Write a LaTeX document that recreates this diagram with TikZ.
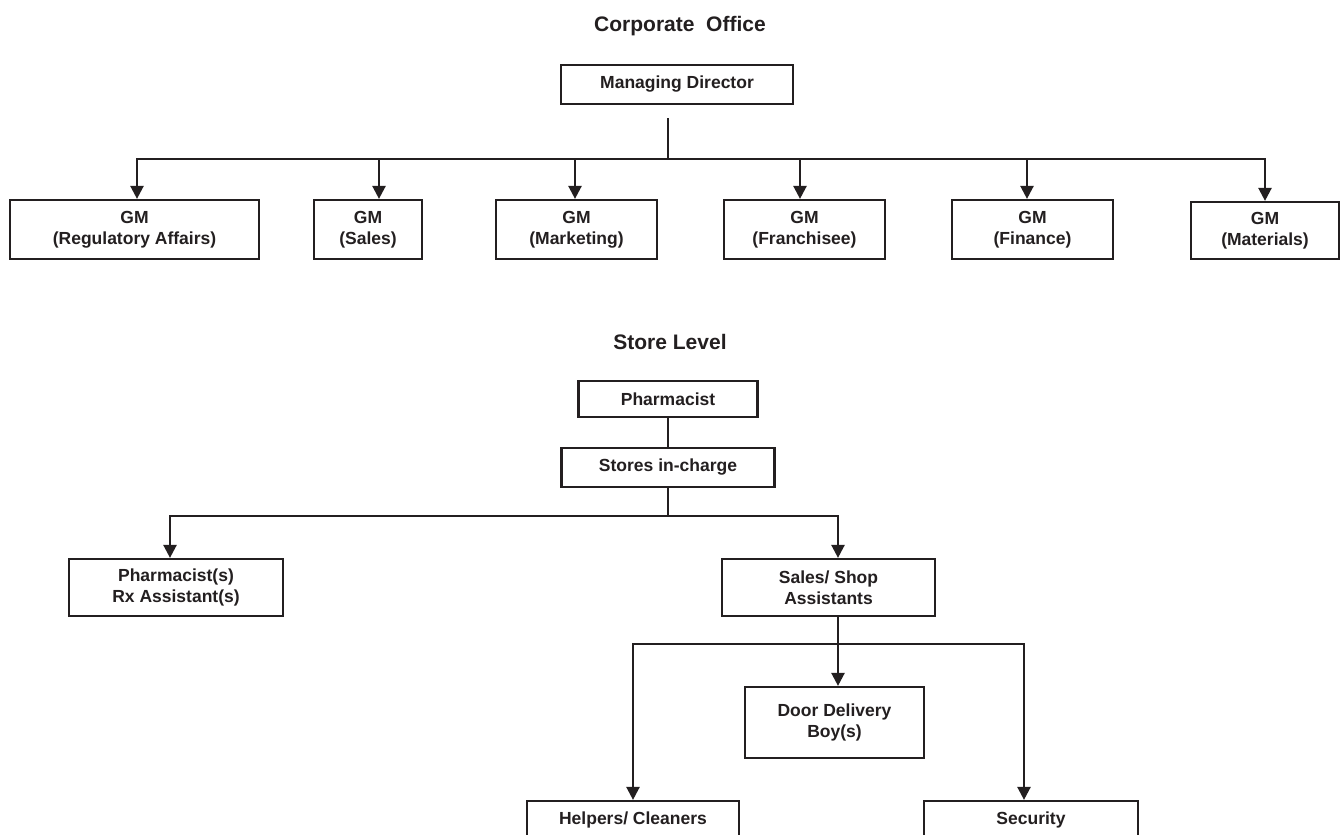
\documentclass[tikz,border=0pt]{standalone}
\usepackage{fontspec}
\setmainfont{Liberation Sans}
\usetikzlibrary{arrows.meta}
\definecolor{ink}{RGB}{35,31,32}
\newcommand\orgboxfont{\bfseries\fontsize{17.5}{21}\selectfont}
\newcommand\orgtitlefont{\bfseries\fontsize{21}{25}\selectfont}
\begin{document}
\begin{tikzpicture}[x=1pt,y=-1pt,
  box/.style={draw=ink, line width=2.2pt, inner sep=0pt, align=center, text=ink, font=\orgboxfont},
  heading/.style={inner sep=0pt, text=ink, font=\orgtitlefont},
  conn/.style={draw=ink, line width=2.4pt},
  arr/.style={conn, -{Triangle[width=13pt,length=13pt]}}
]
\clip (0,0) rectangle (1341,835);
\fill[white] (0,0) rectangle (1341,835);

% ---------- Corporate office ----------
\node[heading] (corp) at (680,26) {Corporate\ \ Office};
\node[box, minimum width=232pt, minimum height=39pt] (md) at (677,84.5) {Managing Director};

\node[box, minimum width=249pt, minimum height=59pt] (reg)  at (134.5,229.5) {GM\\(Regulatory Affairs)};
\node[box, minimum width=108pt, minimum height=59pt] (gsal) at (368,229.5)   {GM\\(Sales)};
\node[box, minimum width=161pt, minimum height=59pt] (mkt)  at (576.5,229.5) {GM\\(Marketing)};
\node[box, minimum width=161pt, minimum height=59pt] (fran) at (804.5,229.5) {GM\\(Franchisee)};
\node[box, minimum width=161pt, minimum height=59pt] (fin)  at (1032.5,229.5) {GM\\(Finance)};
\node[box, minimum width=148pt, minimum height=57pt] (mat)  at (1265,230.5)  {GM\\(Materials)};

\coordinate (mdtop) at (668,118);
\coordinate (mdbus) at (668,159);
\draw[conn, line width=2pt] (mdtop) -- (mdbus);
\draw[arr] (mdbus) -| ([xshift=2.5pt]reg.north);
\draw[arr] (mdbus) -| ([xshift=11pt]gsal.north);
\draw[arr] (mdbus) -| ([xshift=-1.5pt]mkt.north);
\draw[arr] (mdbus) -| ([xshift=-4.5pt]fran.north);
\draw[arr] (mdbus) -| ([xshift=-5.5pt]fin.north);
\draw[arr] (mdbus) -| (mat.north);

% ---------- Store level ----------
\node[heading] (store) at (670,342) {Store Level};
\node[box, minimum width=179pt, minimum height=36pt] (pharm) at (668,399) {Pharmacist};
\node[box, minimum width=213pt, minimum height=39pt] (sic) at (668,467.5) {Stores in-charge};
\draw[conn] (pharm.south) -- (sic.north);

\node[box, minimum width=214pt, minimum height=57pt] (pharms) at (176,587.5) {Pharmacist(s)\\Rx Assistant(s)};
\node[box, minimum width=213pt, minimum height=57pt] (sales) at (828.5,587.5) {Sales/ Shop\\Assistants};

\coordinate (sbus) at (668,516);
\draw[conn] (sic.south) -- (sbus);
\draw[arr] (sbus) -| ([xshift=-6pt]pharms.north);
\draw[arr] (sbus) -| ([xshift=9.5pt]sales.north);

\node[box, minimum width=179pt, minimum height=71pt] (door) at (834.5,722.5) {Door Delivery\\Boy(s)};
\node[box, minimum width=212pt, minimum height=38pt] (helpers) at (633,820) {Helpers/ Cleaners};
\node[box, minimum width=214pt, minimum height=38pt] (security) at (1031,820) {Security};

\coordinate (sbus2) at (838,644);
\draw[arr] ([xshift=9.5pt]sales.south) -- ([xshift=9.5pt]sales.south |- door.north);
\draw[arr] (sbus2) -| (helpers.north);
\draw[arr] (sbus2) -| ([xshift=-7pt]security.north);
\end{tikzpicture}
\end{document}
